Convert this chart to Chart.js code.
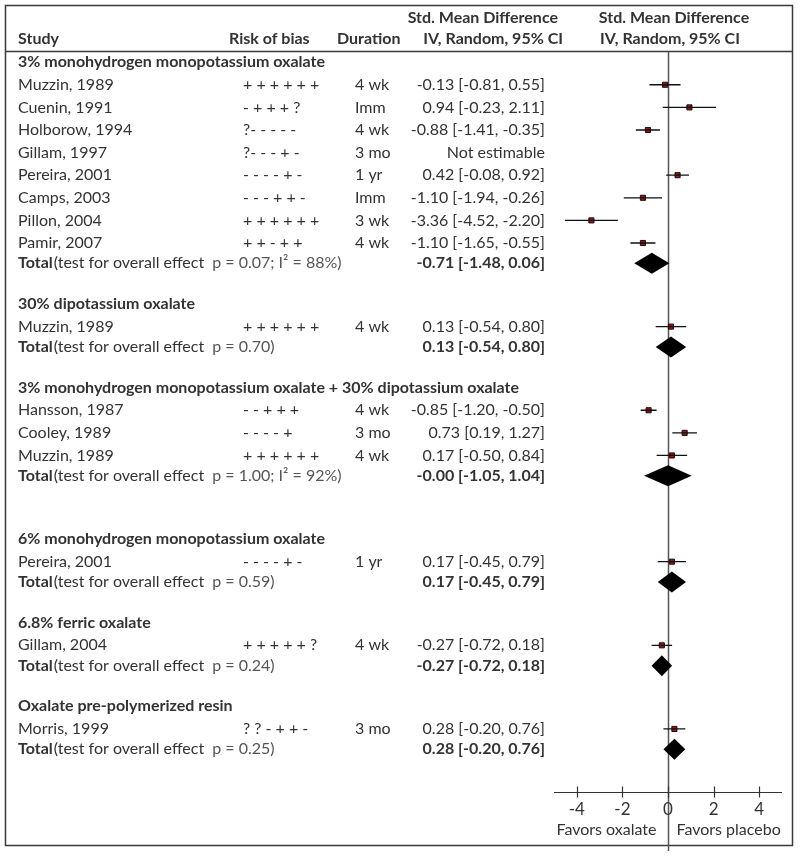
<!DOCTYPE html>
<html>
<head>
<meta charset="utf-8">
<title>Forest plot - oxalates</title>
<script src="https://cdn.jsdelivr.net/npm/chart.js@4.4.0/dist/chart.umd.min.js"></script>
<style>
    body { margin: 0; background: #fff; }
    canvas { display: block; }
</style>
</head>
<body>
<canvas id="forestChart" width="800" height="857"></canvas>
<script>
const groupNames = [
    '3% monohydrogen monopotassium oxalate',
    '30% dipotassium oxalate',
    '3% monohydrogen monopotassium oxalate + 30% dipotassium oxalate',
    '6% monohydrogen monopotassium oxalate',
    '6.8% ferric oxalate',
    'Oxalate pre-polymerized resin'
];
const groupTests = ['p = 0.07; I\u00b2 = 88%', 'p = 0.70', 'p = 1.00; I\u00b2 = 92%', 'p = 0.59', 'p = 0.24', 'p = 0.25'];
const groupSmd = [-0.71, 0.13, -0.00, 0.17, -0.27, 0.28];
const groupLow = [-1.48, -0.54, -1.05, -0.45, -0.72, -0.20];
const groupHigh = [0.06, 0.80, 1.04, 0.79, 0.18, 0.76];

const studyNames = ['Muzzin, 1989', 'Cuenin, 1991', 'Holborow, 1994', 'Gillam, 1997', 'Pereira, 2001', 'Camps, 2003',
    'Pillon, 2004', 'Pamir, 2007', 'Muzzin, 1989', 'Hansson, 1987', 'Cooley, 1989', 'Muzzin, 1989',
    'Pereira, 2001', 'Gillam, 2004', 'Morris, 1999'];
const studyGroup = [0, 0, 0, 0, 0, 0, 0, 0, 1, 2, 2, 2, 3, 4, 5];
const studyBias = ['+ + + + + +', '- + + + ?', '?- - - - -', '?- - - + -', '- - - - + -', '- - - + + -',
    '+ + + + + +', '+ + - + +', '+ + + + + +', '- - + + +', '- - - - +', '+ + + + + +',
    '- - - - + -', '+ + + + + ?', '? ? - + + -'];
const studyDuration = ['4 wk', 'Imm', '4 wk', '3 mo', '1 yr', 'Imm', '3 wk', '4 wk', '4 wk', '4 wk', '3 mo', '4 wk',
    '1 yr', '4 wk', '3 mo'];
const studySmd = [-0.13, 0.94, -0.88, null, 0.42, -1.10, -3.36, -1.10, 0.13, -0.85, 0.73, 0.17, 0.17, -0.27, 0.28];
const studyLow = [-0.81, -0.23, -1.41, null, -0.08, -1.94, -4.52, -1.65, -0.54, -1.20, 0.19, -0.50, -0.45, -0.72, -0.20];
const studyHigh = [0.55, 2.11, -0.35, null, 0.92, -0.26, -2.20, -0.55, 0.80, -0.50, 1.27, 0.84, 0.79, 0.18, 0.76];

const xTicks = [-4, -2, 0, 2, 4];
const sideLabels = ['Favors oxalate', 'Favors placebo'];

// row layout (in row units)
const blankBefore = [0, 0, 0, 1, 0, 0];
let headingRows = [], studyRows = [], totalRows = [];
let pos = 0;
groupNames.forEach(function (name, g) {
    pos += blankBefore[g];
    headingRows.push(pos);
    pos += 1;
    studyNames.forEach(function (s, i) {
        if (studyGroup[i] === g) {
            studyRows[i] = pos;
            pos += 1;
        }
    });
    pos -= 0.1;
    totalRows.push(pos);
    pos += 1.8;
});
const axisRow = pos + 0.1;

const textColor = '#333';
const fontName = 'Lato, "Open Sans", sans-serif';
const fontSize = '16px ';

function fmt(v) {
    return (v < 0 || Object.is(v, -0) ? '-' : '') + Math.abs(v).toFixed(2);
}
function ciText(m, lo, hi) {
    return fmt(m) + ' [' + fmt(lo) + ', ' + fmt(hi) + ']';
}

let ciLines = [];
let squares = [];
studySmd.forEach(function (m, i) {
    if (m === null) return;
    ciLines.push({x: studyLow[i], y: studyRows[i]});
    ciLines.push({x: studyHigh[i], y: studyRows[i]});
    ciLines.push({x: null, y: null});
    squares.push({x: m, y: studyRows[i]});
});

const tablePlugin = {
    id: 'forestTable',
    beforeDatasetsDraw: function (chart) {
        const ctx = chart.ctx;
        const xs = chart.scales.x, ys = chart.scales.y;
        const zx = Math.round(xs.getPixelForValue(0)) + 0.5;
        ctx.save();
        ctx.strokeStyle = '#3a3a3a';
        ctx.lineWidth = 1.5;
        ctx.strokeRect(5.5, 5.5, 787, 840);
        ctx.beginPath();
        ctx.moveTo(5, 51.5);
        ctx.lineTo(793, 51.5);
        ctx.stroke();
        ctx.strokeStyle = '#555';
        ctx.beginPath();
        ctx.moveTo(zx, chart.chartArea.top);
        ctx.lineTo(zx, chart.chartArea.bottom);
        ctx.stroke();

        // axis
        const ay = Math.round(ys.getPixelForValue(axisRow)) + 0.5;
        ctx.strokeStyle = '#333';
        ctx.lineWidth = 1.2;
        ctx.beginPath();
        ctx.moveTo(xs.getPixelForValue(xs.min), ay);
        ctx.lineTo(xs.getPixelForValue(xs.max), ay);
        xTicks.forEach(function (t) {
            const tx = Math.round(xs.getPixelForValue(t)) + 0.5;
            ctx.moveTo(tx, ay - 6);
            ctx.lineTo(tx, ay + 5);
        });
        ctx.stroke();
        ctx.fillStyle = textColor;
        ctx.font = '17px ' + fontName;
        ctx.textBaseline = 'middle';
        ctx.textAlign = 'center';
        xTicks.forEach(function (t) {
            ctx.fillText(String(t), xs.getPixelForValue(t), ay + 17);
        });
        ctx.font = fontSize + fontName;
        ctx.textAlign = 'right';
        ctx.fillText(sideLabels[0], zx - 12, ay + 37);
        ctx.textAlign = 'left';
        ctx.fillText(sideLabels[1], zx + 8, ay + 37);

        // header
        ctx.font = 'bold ' + fontSize + fontName;
        ctx.textAlign = 'left';
        ctx.fillText('Study', 18, 39);
        ctx.fillText('Risk of bias', 229, 39);
        ctx.fillText('Duration', 337, 39);
        ctx.textAlign = 'right';
        ctx.fillText('Std. Mean Difference', 558, 18);
        ctx.fillText('IV, Random, 95% CI', 563, 39);
        ctx.textAlign = 'center';
        ctx.fillText('Std. Mean Difference', 674, 18);
        ctx.fillText('IV, Random, 95% CI', 670, 39);

        groupNames.forEach(function (name, g) {
            ctx.font = 'bold ' + fontSize + fontName;
            ctx.textAlign = 'left';
            ctx.fillStyle = textColor;
            ctx.fillText(name, 18, ys.getPixelForValue(headingRows[g]));

            const ty = ys.getPixelForValue(totalRows[g]);
            ctx.fillText('Total', 18, ty);
            let w = ctx.measureText('Total').width;
            ctx.textAlign = 'right';
            ctx.fillText(ciText(groupSmd[g], groupLow[g], groupHigh[g]), 545, ty);
            ctx.font = fontSize + fontName;
            ctx.textAlign = 'left';
            ctx.fillText('(test for overall effect', 18 + w + 1, ty);
            w += ctx.measureText('(test for overall effect ').width + 5;
            ctx.fillStyle = '#555';
            ctx.fillText(groupTests[g] + ')', 18 + w, ty);
        });

        ctx.font = fontSize + fontName;
        ctx.fillStyle = textColor;
        studyNames.forEach(function (name, i) {
            const y = ys.getPixelForValue(studyRows[i]);
            ctx.textAlign = 'left';
            ctx.fillText(name, 18, y);
            ctx.fillText(studyBias[i], 243, y);
            ctx.fillText(studyDuration[i], 355, y);
            ctx.textAlign = 'right';
            const txt = studySmd[i] === null ? 'Not estimable' : ciText(studySmd[i], studyLow[i], studyHigh[i]);
            ctx.fillText(txt, 545, y);
        });
        ctx.restore();
    },
    afterDatasetsDraw: function (chart) {
        const ctx = chart.ctx;
        const xs = chart.scales.x, ys = chart.scales.y;
        ctx.save();
        ctx.fillStyle = '#000';
        groupSmd.forEach(function (m, g) {
            const y = ys.getPixelForValue(totalRows[g]);
            ctx.beginPath();
            ctx.moveTo(xs.getPixelForValue(groupLow[g]), y);
            ctx.lineTo(xs.getPixelForValue(m), y - 10.5);
            ctx.lineTo(xs.getPixelForValue(groupHigh[g]), y);
            ctx.lineTo(xs.getPixelForValue(m), y + 10.5);
            ctx.closePath();
            ctx.fill();
        });
        ctx.restore();
    }
};

let forestChart = new Chart(document.getElementById('forestChart'), {
    type: 'scatter',
    data: {
        datasets: [
            {
                label: 'CI',
                data: ciLines,
                showLine: true,
                spanGaps: false,
                borderColor: '#111',
                borderWidth: 1.3,
                pointRadius: 0
            },
            {
                label: 'SMD',
                data: squares,
                pointStyle: 'rect',
                pointRadius: 3.6,
                backgroundColor: '#a01010',
                borderColor: '#111',
                borderWidth: 1
            }
        ]
    },
    options: {
        responsive: false,
        animation: false,
        devicePixelRatio: 1,
        layout: {
            padding: {left: 554, right: 18, top: 52, bottom: 6}
        },
        plugins: {
            legend: {display: false},
            tooltip: {enabled: false}
        },
        scales: {
            x: {type: 'linear', min: -5, max: 5, display: false},
            y: {type: 'linear', min: -0.45, max: 34.9, reverse: true, display: false}
        }
    },
    plugins: [tablePlugin]
});
</script>
</body>
</html>
